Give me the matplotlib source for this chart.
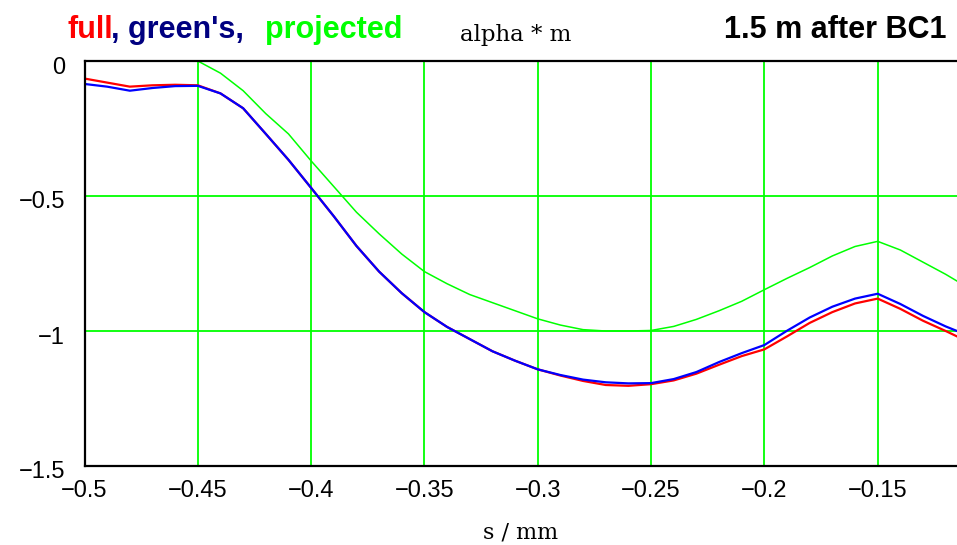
import matplotlib.pyplot as plt
import matplotlib.transforms as mtransforms
import numpy as np

# values (s in mm, alpha * m)
s = [-0.5, -0.49, -0.48, -0.47, -0.46, -0.45, -0.44, -0.43, -0.42, -0.41,
     -0.40, -0.39, -0.38, -0.37, -0.36, -0.35, -0.34, -0.33, -0.32, -0.31,
     -0.30, -0.29, -0.28, -0.27, -0.26, -0.25, -0.24, -0.23, -0.22, -0.21,
     -0.20, -0.19, -0.18, -0.17, -0.16, -0.15, -0.14, -0.13, -0.12, -0.115]

full = [-0.065, -0.08, -0.095, -0.09, -0.088, -0.09, -0.12, -0.175, -0.27, -0.366,
        -0.47, -0.575, -0.685, -0.78, -0.86, -0.93, -0.985, -1.03, -1.075, -1.11,
        -1.142, -1.165, -1.185, -1.2, -1.203, -1.197, -1.183, -1.158, -1.125, -1.093,
        -1.068, -1.02, -0.97, -0.93, -0.898, -0.88, -0.918, -0.962, -1.0, -1.02]

greens = [-0.085, -0.095, -0.11, -0.10, -0.093, -0.092, -0.12, -0.175, -0.27, -0.366,
          -0.47, -0.575, -0.685, -0.78, -0.86, -0.93, -0.985, -1.03, -1.075, -1.11,
          -1.142, -1.163, -1.18, -1.19, -1.194, -1.193, -1.178, -1.152, -1.115, -1.082,
          -1.052, -0.999, -0.95, -0.91, -0.88, -0.862, -0.9, -0.944, -0.983, -1.0]

s_proj = [-0.455, -0.45, -0.44, -0.43, -0.42, -0.41, -0.40, -0.39, -0.38, -0.37,
          -0.36, -0.35, -0.34, -0.33, -0.32, -0.31, -0.30, -0.29, -0.28, -0.27,
          -0.26, -0.25, -0.24, -0.23, -0.22, -0.21, -0.20, -0.19, -0.18, -0.17,
          -0.16, -0.15, -0.14, -0.13, -0.12, -0.115]
projected = [0.01, 0.0, -0.045, -0.11, -0.195, -0.27, -0.37, -0.465, -0.56, -0.64,
             -0.715, -0.78, -0.825, -0.865, -0.895, -0.925, -0.955, -0.978, -0.995, -1.0,
             -1.0, -0.998, -0.983, -0.957, -0.925, -0.89, -0.847, -0.805, -0.765, -0.722,
             -0.687, -0.668, -0.7, -0.745, -0.79, -0.815]

xticks = [-0.5, -0.45, -0.4, -0.35, -0.3, -0.25, -0.2, -0.15]
xlabels = ["\u22120.5", "\u22120.45", "\u22120.4", "\u22120.35", "\u22120.3",
           "\u22120.25", "\u22120.2", "\u22120.15"]
yticks = [0, -0.5, -1, -1.5]
ylabels = ["0", "\u22120.5", "\u22121", "\u22121.5"]

W, H = 957, 545
fig = plt.figure(figsize=(W / 100, H / 100), dpi=100)
ax = fig.add_axes([84.5 / W, 1 - 466 / H, (W - 84.5) / W, (466 - 61) / H])

ax.plot(s, full, color="#ff0000", lw=1.6, zorder=3)
ax.plot(s, greens, color="#0000ff", lw=1.6, zorder=4)
ax.plot(s_proj, projected, color="#00ff00", lw=1.1, zorder=3)

ax.set_xlim(-0.5, -0.115)
ax.set_ylim(-1.5, 0)
ax.set_xticks(xticks)
ax.set_xticklabels(xlabels)
ax.set_yticks(yticks)
ax.set_yticklabels(ylabels)
ax.tick_params(length=0, labelsize=17, labelfontfamily="Liberation Sans")
ax.tick_params(axis="x", pad=10)
ax.tick_params(axis="y", pad=14)
ax.grid(True, color="#00ff00", lw=1.3)
ax.set_axisbelow(True)

# y labels sit a little below their grid lines in the reference
shift = mtransforms.ScaledTranslation(0, -4 / 100, fig.dpi_scale_trans)
for lbl in ax.get_yticklabels():
    lbl.set_transform(lbl.get_transform() + shift)

for side in ["top", "left", "bottom"]:
    ax.spines[side].set_linewidth(1.6)
    ax.spines[side].set_color("black")
    ax.spines[side].set_zorder(5)
ax.spines["right"].set_visible(False)

ax.set_xlabel("s / mm", family="DejaVu Serif", fontsize=16, labelpad=14)

# header texts
bold = dict(family="Liberation Sans", fontsize=22, fontweight="bold", va="baseline")
fig.text(67 / W, 1 - 38 / H, "full", color="#ff0000", **bold)
fig.text(111 / W, 1 - 38 / H, ", green's,", color="#000080", **bold)
fig.text(265 / W, 1 - 38 / H, "projected", color="#00ff00", **bold)
fig.text(947 / W, 1 - 38 / H, "1.5 m after BC1", color="black", ha="right", **bold)
fig.text(460 / W, 1 - 41 / H, "alpha * m", family="DejaVu Serif", fontsize=16.5,
         color="black", va="baseline")

fig.savefig("out.png", dpi=100)
